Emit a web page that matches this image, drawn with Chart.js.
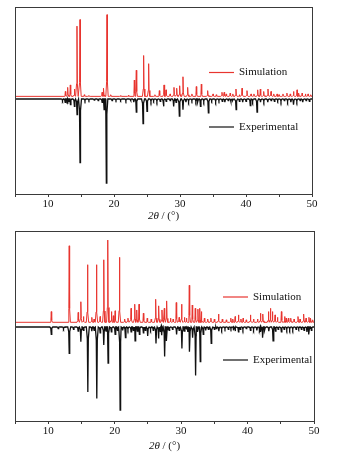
<!DOCTYPE html>
<html lang="en">
<head>
<meta charset="utf-8" />
<title>XRD patterns</title>
<style>
body{margin:0;background:#fff;}
.panel{position:absolute;left:0;width:337px;height:228px;}
</style>
</head>
<body>
<div class="panel" style="top:0"><canvas id="topChart" width="337" height="228"></canvas></div>
<div class="panel" style="top:228px"><canvas id="botChart" width="337" height="228"></canvas></div>

<script src="https://cdn.jsdelivr.net/npm/chart.js@4.4.1"></script>
<script>
/* ---- data: [2theta, intensity] ---- */
const topSim = [
  [12.63,6],[12.98,11],[13.38,14],[14.0,9],[14.39,86],[14.85,94],[15.5,2],[16.2,1],
  [18.2,5],[18.43,10],[18.94,100],[19.5,2],[21.0,1],[22.2,1.5],[23.08,20],[23.38,32],
  [24.49,50],[25.25,40],[26.2,2],[26.87,7],[27.58,14],[27.88,8],[28.5,3],[29.09,11],
  [29.5,10],[29.95,13],[30.45,24],[31.16,11],[31.8,3],[32.47,12],[33.23,15],[34.19,7],
  [35.0,3],[35.5,2],[36.36,5],[36.7,5],[37.0,3],[37.6,4],[38.0,3],[38.48,9],[39.0,2],
  [39.4,10],[40.15,7],[40.76,3],[41.2,3],[41.77,8],[42.17,9],[42.68,6],[43.33,9],
  [43.79,6],[44.2,3],[44.7,3],[45.0,2],[45.6,3],[46.2,4],[46.7,3],[47.2,6],[47.73,8],
  [48.0,4],[48.5,4],[49.0,3],[49.4,3],[49.8,2]
];
const topExp = [
  [12.2,2],[12.6,4],[12.9,5],[13.1,3],[13.4,7],[14.0,9],[14.4,19],[14.85,78],[15.6,2],
  [16.2,1.5],[17.0,1.5],[17.6,2],[18.2,4],[18.5,13],[18.84,103],[19.7,2],[20.3,1.5],
  [21.0,1.5],[21.8,2],[22.5,2],[23.0,4],[23.38,16],[24.4,30],[25.0,15],[25.6,3],[26.0,2],
  [26.5,3],[27.0,3],[27.5,9],[27.9,3],[28.5,2],[29.04,9],[29.4,4],[29.9,21],[30.45,13],
  [30.9,4],[31.3,3],[31.8,2],[32.4,3],[32.7,4],[33.1,9],[33.6,3],[34.3,17],[34.8,2],
  [35.4,3],[35.9,2],[36.4,3],[36.8,4],[37.3,2],[37.7,3],[38.0,2],[38.5,13],[39.0,3],
  [39.5,4],[40.0,3],[40.65,8],[41.0,3],[41.67,16],[42.2,4],[42.7,3],[43.3,4],[43.8,2],
  [44.3,3],[44.8,2],[45.3,3],[45.8,2],[46.3,3],[46.8,4],[47.2,7],[47.7,3],[48.2,2],
  [48.6,4],[49.1,2],[49.6,3]
];
const botSim = [
  [10.46,13],[13.16,93],[14.51,12],[14.91,25],[15.3,7],[15.91,70],[16.56,6],[16.9,4],
  [17.26,70],[17.81,7],[18.36,76],[18.96,100],[19.51,13],[19.8,8],[20.07,14],[20.72,79],
  [21.5,4],[22.0,5],[22.47,17],[23.02,22],[23.32,15],[23.67,22],[24.32,11],[24.9,5],
  [25.5,4],[26.17,28],[26.62,20],[27.12,15],[27.47,17],[27.82,26],[28.4,5],[28.8,4],
  [29.27,24],[29.7,6],[30.07,22],[30.5,6],[30.8,5],[31.23,45],[31.68,21],[32.13,17],
  [32.53,16],[32.83,17],[33.08,13],[33.5,5],[34.0,4],[34.48,5],[35.0,4],[35.63,10],
  [36.2,4],[36.8,3],[37.48,5],[37.8,4],[38.13,7],[38.63,9],[39.0,4],[39.33,5],[39.8,3],
  [40.43,9],[40.9,4],[41.5,4],[41.94,11],[42.29,10],[43.14,13],[43.44,17],[43.74,13],
  [44.14,9],[44.5,6],[45.09,13],[45.59,7],[45.8,5],[46.14,5],[46.5,5],[47.0,4],[47.59,7],
  [47.9,4],[48.44,10],[48.8,5],[49.24,6],[49.5,5],[49.8,3]
];
const botExp = [
  [10.46,9],[11.5,2],[12.3,2],[13.16,32],[13.8,3],[14.5,5],[14.91,18],[15.3,4],[15.96,79],
  [16.56,5],[16.9,4],[17.31,87],[17.81,7],[18.36,22],[18.7,5],[19.01,44],[19.5,6],
  [20.07,9],[20.4,4],[20.82,101],[21.2,4],[21.62,13],[22.0,3],[22.47,6],[22.8,4],
  [23.07,17],[23.4,5],[23.72,9],[24.32,7],[24.6,4],[24.97,11],[25.4,3],[25.8,4],
  [26.22,20],[26.62,14],[26.9,6],[27.12,10],[27.52,36],[27.82,17],[28.2,4],[28.7,3],
  [29.32,9],[29.7,4],[30.12,26],[30.5,5],[30.8,3],[31.0,6],[31.28,30],[31.73,13],
  [32.18,59],[32.5,6],[32.88,42],[33.33,9],[33.7,4],[34.1,3],[34.53,20],[35.0,3],[35.3,2],
  [35.68,5],[36.1,3],[36.6,2],[37.1,3],[37.5,2],[37.9,4],[38.13,5],[38.63,6],[38.9,3],
  [39.3,3],[39.8,2],[40.43,4],[40.9,3],[41.4,4],[41.8,3],[42.0,6],[42.29,13],[42.6,4],
  [43.2,5],[43.84,17],[44.2,5],[44.6,3],[45.09,6],[45.5,3],[45.9,3],[46.34,3],[46.8,3],
  [47.3,3],[47.7,2],[48.1,3],[48.5,4],[48.94,6],[49.24,9],[49.6,4]
];
const seriesNames = ['Simulation', 'Experimental'];
const xTicks = [10, 20, 30, 40, 50];

/* ---- turn a peak list into a polyline: narrow tip, slightly flared foot ---- */
function pattern(peaks, base, sign, w){
  const pts = [{x:5, y:base}];
  peaks.forEach(([p, v]) => {
    pts.push({x:p-3*w, y:base}, {x:p-w, y:base + sign*v*0.18},
             {x:p, y:base + sign*v},
             {x:p+w, y:base + sign*v*0.18}, {x:p+3*w, y:base});
  });
  pts.push({x:50, y:base});
  return pts.sort((a, b) => a.x - b.x);
}

const RED = '#e8352f', BLACK = '#111';

/* frame, legend and axis title */
const decor = {
  id: 'decor',
  afterDraw(chart, args, o) {
    const {ctx, chartArea:a} = chart;
    ctx.save();
    ctx.strokeStyle = '#3a3a3a'; ctx.lineWidth = 1;
    ctx.strokeRect(Math.round(a.left)+0.5, Math.round(a.top)+0.5,
                   Math.round(a.right-a.left), Math.round(a.bottom-a.top));
    ctx.font = '11px "Liberation Serif"';
    ctx.textBaseline = 'middle'; ctx.textAlign = 'left';
    o.legend.forEach((l, i) => {
      const ds = chart.data.datasets[i];
      ctx.strokeStyle = ds.borderColor; ctx.lineWidth = 1.2;
      ctx.beginPath(); ctx.moveTo(l.x, l.y); ctx.lineTo(l.x + 25, l.y); ctx.stroke();
      ctx.fillStyle = '#111';
      ctx.fillText(ds.label, l.x + 30, l.y);
    });
    // 2θ / (°)
    const it = 'italic 11px "Liberation Serif"', rg = '11px "Liberation Serif"';
    ctx.font = it; const w1 = ctx.measureText('2θ').width;
    ctx.font = rg; const w2 = ctx.measureText(' / (°)').width;
    let x = (a.left + a.right)/2 - (w1 + w2)/2;
    const y = a.bottom + o.titleOffset;
    ctx.font = it; ctx.fillText('2θ', x, y);
    ctx.font = rg; ctx.fillText(' / (°)', x + w1, y);
    ctx.restore();
  }
};
Chart.register(decor);
Chart.defaults.animation = false;

function makeChart(id, sim, exp, cfg){
  new Chart(document.getElementById(id), {
    type: 'line',
    data: {
      datasets: [
        {label:seriesNames[0], data:pattern(sim, 0, 1, 0.06), borderColor:RED, borderWidth:1},
        {label:seriesNames[1], data:pattern(exp, cfg.expBase, -1, 0.075), borderColor:BLACK, borderWidth:1.3}
      ]
    },
    options: {
      responsive: false,
      parsing: false,
      elements: {point:{radius:0}, line:{tension:0}},
      layout: {padding: cfg.padding},
      plugins: {
        legend: {display:false}, tooltip: {enabled:false},
        decor: {legend: cfg.legend, titleOffset: cfg.titleOffset}
      },
      scales: {
        x: {
          type: 'linear', min: 5, max: 50,
          afterBuildTicks: s => { s.ticks = [5,10,15,20,25,30,35,40,45,50].map(v => ({value:v})); },
          ticks: {
            autoSkip: false, maxRotation: 0, padding: 1, color: '#111',
            font: {family: '"Liberation Serif"', size: 11},
            callback: v => xTicks.includes(v) ? String(v) : ''
          },
          grid: {drawOnChartArea:false, drawTicks:true, tickLength:3, color:'#3a3a3a'},
          border: {display:true, color:'#3a3a3a'},
          afterFit: s => { s.height = cfg.axisH; }
        },
        y: {display:false, min: cfg.yMin, max: cfg.yMax}
      }
    }
  });
}

makeChart('topChart', topSim, topExp, {
  expBase: -3.2, yMin: -119.5, yMax: 109.4,
  padding: {left:15, right:25, top:7, bottom:0}, axisH: 34, titleOffset: 22,
  legend: [{x:209, y:72.5}, {x:209, y:127}]
});
makeChart('botChart', botSim, botExp, {
  expBase: -5.7, yMin: -120, yMax: 111,
  padding: {left:15, right:23, top:3, bottom:0}, axisH: 35, titleOffset: 25,
  legend: [{x:223, y:69}, {x:223, y:132}]
});
</script>
</body>
</html>
